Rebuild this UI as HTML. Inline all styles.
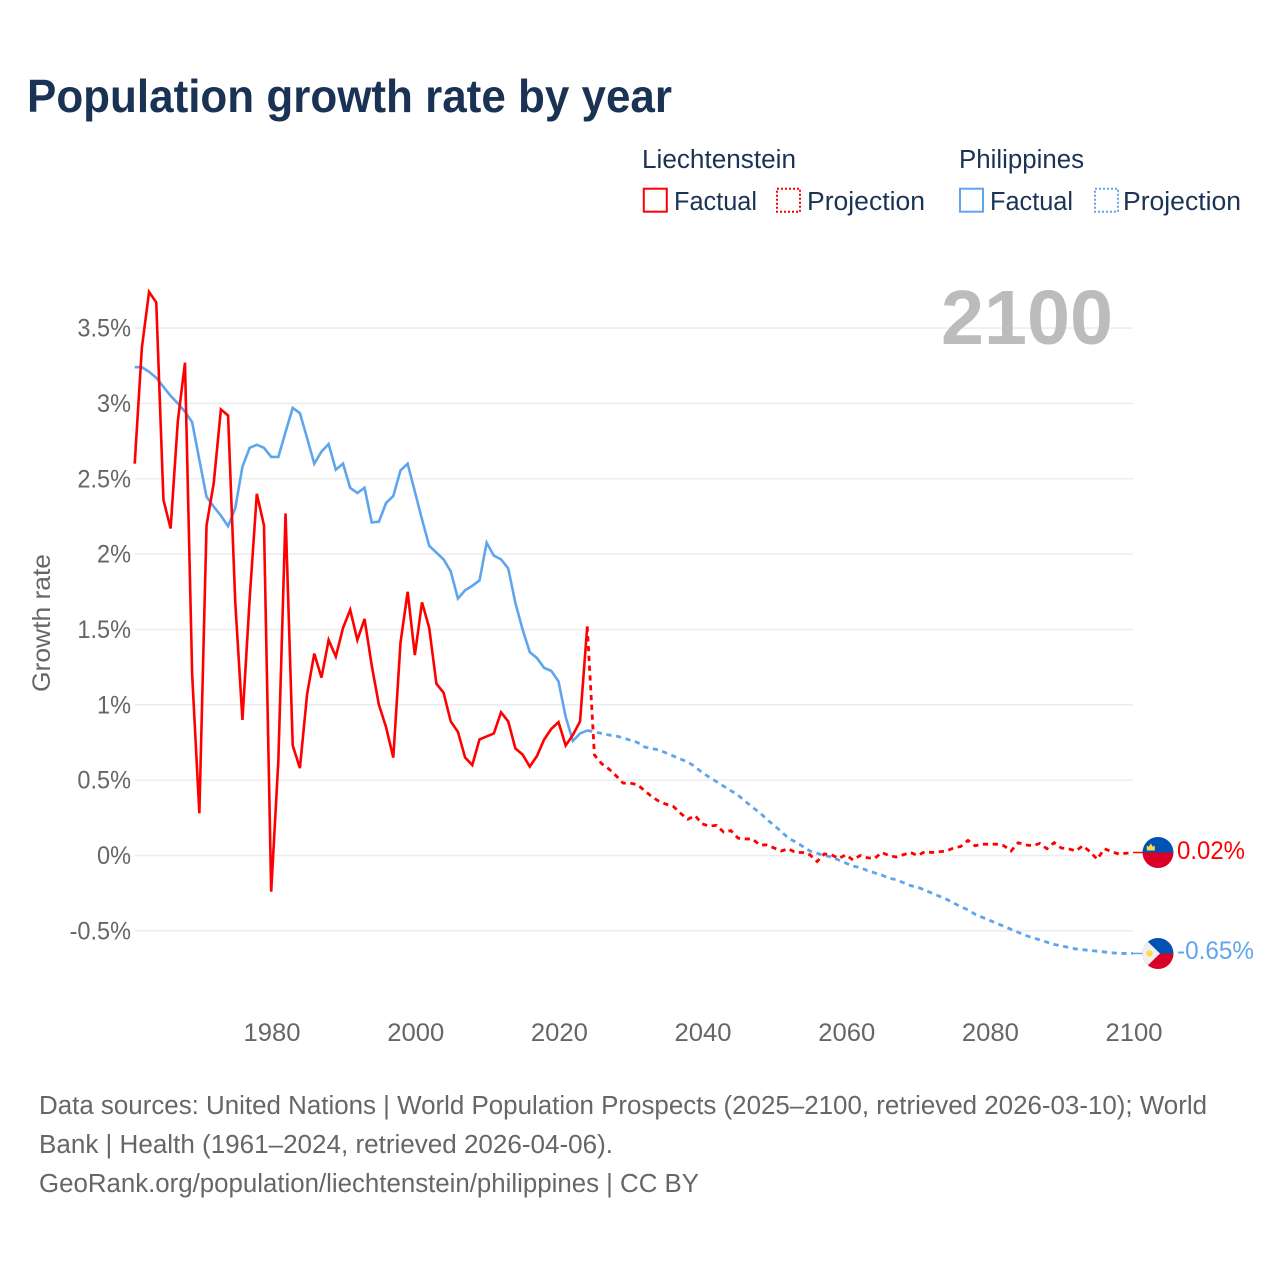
<!DOCTYPE html>
<html lang="en">
<head>
<meta charset="utf-8">
<title>Population growth rate by year</title>
<style>
html,body{margin:0;padding:0;background:#fff;}
svg{display:block;font-family:"Liberation Sans",sans-serif;}
</style>
</head>
<body>
<svg id="chart" width="1280" height="1280" viewBox="0 0 1280 1280" xmlns="http://www.w3.org/2000/svg">
  <rect x="0" y="0" width="1280" height="1280" fill="#ffffff"/>
  <text x="27" y="112" font-size="46" font-weight="700" fill="#1a3354" textLength="645" lengthAdjust="spacingAndGlyphs">Population growth rate by year</text>

  <g font-size="25.5" fill="#1a3354">
    <text x="642" y="168" textLength="154" lengthAdjust="spacingAndGlyphs">Liechtenstein</text>
    <text x="959" y="168" textLength="125" lengthAdjust="spacingAndGlyphs">Philippines</text>
    <rect x="643.8" y="188.7" width="23" height="23" fill="none" stroke="#ff0000" stroke-width="2"/>
    <text x="674" y="210" textLength="83" lengthAdjust="spacingAndGlyphs">Factual</text>
    <rect x="777" y="188.7" width="23" height="23" fill="none" stroke="#ff0000" stroke-width="2" stroke-dasharray="2 2"/>
    <text x="807" y="210" textLength="118" lengthAdjust="spacingAndGlyphs">Projection</text>
    <rect x="960" y="188.7" width="23" height="23" fill="none" stroke="#5fa5ee" stroke-width="2"/>
    <text x="990" y="210" textLength="83" lengthAdjust="spacingAndGlyphs">Factual</text>
    <rect x="1095" y="188.7" width="23" height="23" fill="none" stroke="#5fa5ee" stroke-width="2" stroke-dasharray="2 2"/>
    <text x="1123" y="210" textLength="118" lengthAdjust="spacingAndGlyphs">Projection</text>
  </g>

  <g id="grid"></g>
  <text x="941" y="344" font-size="77" font-weight="700" fill="#bcbcbc" textLength="172" lengthAdjust="spacingAndGlyphs">2100</text>
  <g id="yticks" font-size="25" fill="#666666"></g>
  <g id="xticks" font-size="25" fill="#666666"></g>
  <text transform="translate(50,692) rotate(-90)" font-size="25" fill="#666666" textLength="138" lengthAdjust="spacingAndGlyphs">Growth rate</text>
  <g id="series"></g>

  <g>
    <clipPath id="clipLi"><circle cx="1158" cy="852.5" r="15.5"/></clipPath>
    <g clip-path="url(#clipLi)">
      <rect x="1142" y="837" width="32" height="16" fill="#0052b4"/>
      <rect x="1142" y="852.5" width="32" height="16" fill="#d80027"/>
      <path d="M1146.8 850.5 v-5 l2 1.3 l2 -3.4 l2 3.4 l2 -1.3 v5 z" fill="#ffda44"/>
    </g>
  </g>
  <g>
    <clipPath id="clipPh"><circle cx="1158" cy="953.5" r="15.5"/></clipPath>
    <g clip-path="url(#clipPh)">
      <rect x="1142" y="938" width="32" height="16" fill="#0052b4"/>
      <rect x="1142" y="953.5" width="32" height="16" fill="#d80027"/>
      <path d="M1142 936 L1160 953.5 L1142 971 z" fill="#f0f0f0"/>
      <circle cx="1149.5" cy="953.5" r="3.2" fill="#ffda44"/>
    </g>
  </g>

  <g id="endlabels" font-size="25"></g>

  <g font-size="25.5" fill="#666666">
    <text x="39" y="1114" textLength="1168" lengthAdjust="spacingAndGlyphs">Data sources: United Nations | World Population Prospects (2025–2100, retrieved 2026-03-10); World</text>
    <text x="39" y="1153" textLength="574" lengthAdjust="spacingAndGlyphs">Bank | Health (1961–2024, retrieved 2026-04-06).</text>
    <text x="39" y="1192" textLength="660" lengthAdjust="spacingAndGlyphs">GeoRank.org/population/liechtenstein/philippines | CC BY</text>
  </g>
</svg>
<script>
var factualStartYear = 1961;
var projectionStartYear = 2024;
var yTickValues = [3.5, 3, 2.5, 2, 1.5, 1, 0.5, 0, -0.5];
var yTickLabels = ["3.5%", "3%", "2.5%", "2%", "1.5%", "1%", "0.5%", "0%", "-0.5%"];
var xTickYears = [1980, 2000, 2020, 2040, 2060, 2080, 2100];
var endLabelLiechtenstein = "0.02%";
var endLabelPhilippines = "-0.65%";

var liechtensteinFactual = [2.60,3.37,3.74,3.67,2.36,2.17,2.88,3.27,1.20,0.28,2.19,2.47,2.96,2.92,1.68,0.90,1.70,2.40,2.19,-0.24,0.63,2.27,0.73,0.58,1.07,1.34,1.18,1.43,1.32,1.51,1.63,1.43,1.57,1.26,1.00,0.85,0.65,1.41,1.75,1.33,1.68,1.51,1.14,1.08,0.89,0.82,0.65,0.60,0.77,0.79,0.81,0.95,0.89,0.71,0.67,0.59,0.66,0.77,0.84,0.885,0.73,0.80,0.89,1.52];

var liechtensteinProjection = [1.52,0.667,0.61,0.575,0.53,0.48,0.48,0.47,0.43,0.39,0.36,0.34,0.325,0.28,0.24,0.265,0.21,0.195,0.20,0.155,0.165,0.115,0.11,0.11,0.07,0.07,0.05,0.03,0.045,0.02,0.02,0.005,-0.04,0.01,0.005,-0.02,0.005,-0.03,0,-0.015,-0.02,0.02,0,-0.01,0.005,0.02,0,0.025,0.02,0.025,0.03,0.05,0.06,0.10,0.065,0.075,0.075,0.075,0.065,0.03,0.085,0.07,0.065,0.08,0.045,0.085,0.05,0.045,0.03,0.065,0.025,-0.025,0.045,0.025,0.01,0.015,0.02];

var philippinesFactual = [3.24,3.24,3.21,3.17,3.11,3.05,3.00,2.945,2.875,2.625,2.38,2.315,2.255,2.185,2.305,2.58,2.705,2.725,2.705,2.645,2.645,2.81,2.97,2.935,2.77,2.60,2.68,2.73,2.56,2.60,2.44,2.405,2.44,2.21,2.215,2.34,2.385,2.555,2.60,2.415,2.23,2.055,2.01,1.965,1.885,1.705,1.76,1.79,1.825,2.075,1.99,1.965,1.905,1.675,1.50,1.35,1.31,1.245,1.225,1.155,0.92,0.76,0.81,0.83];

var philippinesProjection = [0.83,0.82,0.81,0.80,0.793,0.78,0.765,0.75,0.72,0.71,0.70,0.68,0.66,0.64,0.62,0.59,0.55,0.52,0.49,0.46,0.43,0.40,0.36,0.32,0.285,0.24,0.20,0.16,0.115,0.09,0.06,0.03,0.015,0,-0.01,-0.03,-0.05,-0.07,-0.08,-0.10,-0.115,-0.13,-0.15,-0.16,-0.18,-0.20,-0.21,-0.23,-0.25,-0.27,-0.29,-0.315,-0.34,-0.36,-0.39,-0.41,-0.43,-0.45,-0.47,-0.49,-0.51,-0.53,-0.545,-0.56,-0.575,-0.59,-0.60,-0.61,-0.62,-0.625,-0.63,-0.635,-0.64,-0.645,-0.65,-0.65,-0.65];

var NS = "http://www.w3.org/2000/svg";
var RED = "#ff0000";
var BLUE = "#5fa5ee";
function xScale(year){ return 134.7 + (year - 1961) * 7.183; }
function yScale(v){ return 855.5 - v * 150.7; }
function pathFrom(values, startYear){
  var d = "";
  for (var i = 0; i < values.length; i++){
    d += (i ? "L" : "M") + xScale(startYear + i).toFixed(2) + " " + yScale(values[i]).toFixed(2);
  }
  return d;
}
var gridGroup = document.getElementById("grid");
var yGroup = document.getElementById("yticks");
yTickValues.forEach(function(v, i){
  var line = document.createElementNS(NS, "line");
  
  
  line.setAttribute("x1", 135);
  line.setAttribute("x2", 1133);
  line.setAttribute("y1", yScale(v));
  line.setAttribute("y2", yScale(v));
  line.setAttribute("stroke", "#ededed");
  line.setAttribute("stroke-width", 1.6);
  gridGroup.appendChild(line);
  var t = document.createElementNS(NS, "text");
  
  
  t.setAttribute("x", 131);
  t.setAttribute("y", yScale(v) + 8.5);
  t.setAttribute("text-anchor", "end");
  t.textContent = yTickLabels[i];
  yGroup.appendChild(t);
  var natural = t.getComputedTextLength();
  t.setAttribute("textLength", (natural * 0.94).toFixed(1));
  t.setAttribute("lengthAdjust", "spacingAndGlyphs");
});
var xGroup = document.getElementById("xticks");
xTickYears.forEach(function(year){
  var t = document.createElementNS(NS, "text");
  
  
  t.setAttribute("x", xScale(year) + 0.9);
  t.setAttribute("y", 1041);
  t.setAttribute("text-anchor", "middle");
  t.setAttribute("textLength", 57);
  t.setAttribute("lengthAdjust", "spacingAndGlyphs");
  t.textContent = String(year);
  xGroup.appendChild(t);
});
var seriesGroup = document.getElementById("series");
function addLine(name, values, startYear, color, dashed){
  var p = document.createElementNS(NS, "path");
  
  
  p.setAttribute("d", pathFrom(values, startYear));
  p.setAttribute("fill", "none");
  p.setAttribute("stroke", color);
  p.setAttribute("stroke-width", dashed ? 2.8 : 2.6);
  p.setAttribute("stroke-linejoin", "miter");
  if (dashed) p.setAttribute("stroke-dasharray", "5.2 4.6");
  seriesGroup.appendChild(p);
}
addLine("line-philippines-factual", philippinesFactual, factualStartYear, BLUE, false);
addLine("line-philippines-projection", philippinesProjection, projectionStartYear, BLUE, true);
addLine("line-liechtenstein-factual", liechtensteinFactual, factualStartYear, RED, false);
addLine("line-liechtenstein-projection", liechtensteinProjection, projectionStartYear, RED, true);

function addStub(name, values, color){
  var last = values[values.length - 1];
  var s = document.createElementNS(NS, "line");
  
  
  s.setAttribute("x1", xScale(2100));
  s.setAttribute("x2", 1143);
  s.setAttribute("y1", yScale(last));
  s.setAttribute("y2", yScale(last));
  s.setAttribute("stroke", color);
  s.setAttribute("stroke-width", 1.5);
  seriesGroup.appendChild(s);
}
addStub("connector-liechtenstein", liechtensteinProjection, RED);
addStub("connector-philippines", philippinesProjection, BLUE);

var endGroup = document.getElementById("endlabels");
function addEndLabel(name, text, baseline, width, color){
  var t = document.createElementNS(NS, "text");
  
  
  t.setAttribute("x", 1177);
  t.setAttribute("y", baseline);
  t.setAttribute("fill", color);
  t.setAttribute("textLength", width);
  t.setAttribute("lengthAdjust", "spacingAndGlyphs");
  t.textContent = text;
  endGroup.appendChild(t);
}
addEndLabel("end-label-liechtenstein", endLabelLiechtenstein, 859, 68, RED);
addEndLabel("end-label-philippines", endLabelPhilippines, 959, 77, BLUE);
</script>
</body>
</html>
